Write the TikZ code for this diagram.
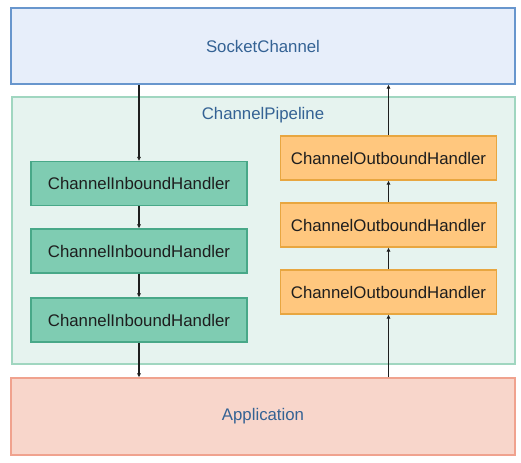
\documentclass[tikz,border=0pt]{standalone}
\usepackage{fontspec}
\setmainfont{Liberation Sans}
\usepackage{tikz}
\usetikzlibrary{arrows.meta,positioning}
\definecolor{linedark}{RGB}{30,30,30}
\definecolor{labelblue}{RGB}{52,98,148}
\definecolor{sockfill}{RGB}{231,238,250}
\definecolor{sockdraw}{RGB}{104,150,205}
\definecolor{pipefill}{RGB}{230,243,239}
\definecolor{pipedraw}{RGB}{160,214,192}
\definecolor{infill}{RGB}{127,204,178}
\definecolor{indraw}{RGB}{72,168,136}
\definecolor{outfill}{RGB}{255,199,126}
\definecolor{outdraw}{RGB}{232,166,64}
\definecolor{appfill}{RGB}{248,214,203}
\definecolor{appdraw}{RGB}{240,162,142}

\begin{document}
\begin{tikzpicture}[
  x=0.75pt,y=-0.75pt,
  font=\fontsize{12.6}{15}\selectfont,
  wide/.style={rectangle,minimum width=378pt,minimum height=57pt,line width=0.9pt,
               text=labelblue,inner sep=0pt},
  handler/.style={rectangle,minimum width=162pt,minimum height=33pt,line width=0.9pt,
                  text=linedark,inner sep=0pt},
  arrow/.style={-{Latex[length=3pt,width=3.2pt]},draw=linedark,line width=0.9pt}
]
\useasboundingbox[fill=white] (0,0) rectangle (521,462);
% outer layers
\node[wide,fill=sockfill,draw=sockdraw] (sock) at (263,46) {SocketChannel};
\node[rectangle,minimum width=377.25pt,minimum height=200.25pt,fill=pipefill,
      draw=pipedraw,line width=0.9pt] (pipe) at (263.5,230.5) {};
\node[text=labelblue] (pipelabel) at (263,115) {ChannelPipeline};
\node[wide,fill=appfill,draw=appdraw,minimum height=57.75pt] (app) at (263,416.5) {Application};
% inbound handlers
\node[handler,fill=infill,draw=indraw] (in1) at (139,183.5) {ChannelInboundHandler};
\node[handler,fill=infill,draw=indraw] (in2) at (139,251) {ChannelInboundHandler};
\node[handler,fill=infill,draw=indraw] (in3) at (139,320) {ChannelInboundHandler};
% outbound handlers
\node[handler,fill=outfill,draw=outdraw] (out1) at (388.5,158) {ChannelOutboundHandler};
\node[handler,fill=outfill,draw=outdraw] (out2) at (388.5,225) {ChannelOutboundHandler};
\node[handler,fill=outfill,draw=outdraw] (out3) at (388.5,292) {ChannelOutboundHandler};
% inbound flow
\draw[arrow] (in1.north |- sock.south) -- (in1.north);
\draw[arrow] (in1) -- (in2);
\draw[arrow] (in2) -- (in3);
\draw[arrow] (in3.south) -- (in3.south |- app.north);
% outbound flow
\draw[arrow] (out3.south |- app.north) -- (out3.south);
\draw[arrow] (out3) -- (out2);
\draw[arrow] (out2) -- (out1);
\draw[arrow] (out1.north) -- (out1.north |- sock.south);
\end{tikzpicture}
\end{document}
